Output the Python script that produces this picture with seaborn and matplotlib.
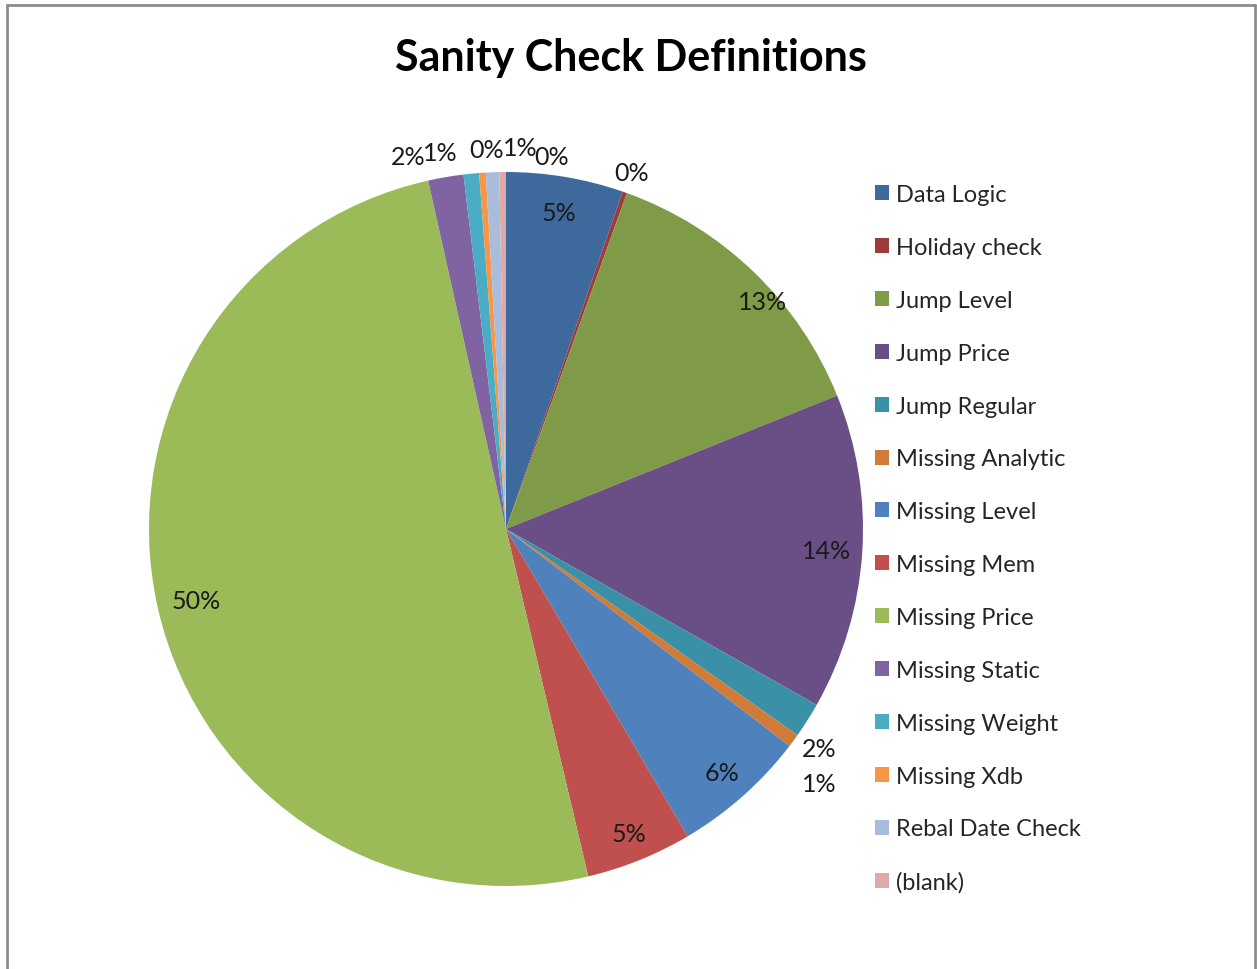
import numpy as np
import matplotlib
matplotlib.use("Agg")
import matplotlib.pyplot as plt
from matplotlib.lines import Line2D
import seaborn as sns

# ------------------------------------------------------------
# DATA (share of checks, %)
# ------------------------------------------------------------
categories = [
    "Data Logic", "Holiday check", "Jump Level", "Jump Price", "Jump Regular",
    "Missing Analytic", "Missing Level", "Missing Mem", "Missing Price",
    "Missing Static", "Missing Weight", "Missing Xdb", "Rebal Date Check",
    "(blank)",
]
values = [5.3, 0.2, 13.4, 14.3, 1.6, 0.6, 6.1, 4.8, 50.2, 1.6, 0.7, 0.3, 0.6, 0.3]
title = "Sanity Check Definitions"

colors = [
    "#3D699C", "#9C3B39", "#7F9B48", "#694F86", "#3A91A7", "#D07C38",
    "#4F81BD", "#C0504D", "#9BBB59", "#8064A2", "#4BACC6", "#F79646",
    "#A9BCDB", "#DCAAA9",
]

# label placement (radius in pie radii, angle nudge in degrees)
label_r = [0.90, 1.06, 0.96, 0.90, 1.07, 1.13, 0.91, 0.92, 0.89,
           1.08, 1.07, 1.065, 1.07, 1.05]
label_nudge = [0, 0, 4.5, 0, 2.6, 2.7, 0, 0, 0, -5, -4.3, 0.9, 4.3, 7.5]

# ------------------------------------------------------------
# STYLE
# ------------------------------------------------------------
sns.set_theme(style="white")
plt.rcParams["font.family"] = ["Lato", "DejaVu Sans"]

W, H = 1257, 970
fig = plt.figure(figsize=(W / 100, H / 100), dpi=100)

cx, cy, R = 506, 530, 357
ax = fig.add_axes([(cx - R) / W, (H - cy - R) / H, 2 * R / W, 2 * R / H])

wedges, _ = ax.pie(
    values,
    colors=colors,
    startangle=90,
    counterclock=False,
    radius=1,
    wedgeprops=dict(linewidth=0),
)
ax.set_xlim(-1, 1)
ax.set_ylim(-1, 1)
ax.set_aspect("equal")
ax.axis("off")

# percentage labels
vals = np.array(values)
total = vals.sum()
start = np.concatenate([[0], np.cumsum(vals)[:-1]])
mid = (start + vals / 2) / total * 360

for i, v in enumerate(vals):
    ang = np.deg2rad(mid[i] + label_nudge[i])
    x = label_r[i] * np.sin(ang)
    y = label_r[i] * np.cos(ang)
    ax.text(x, y, f"{round(v / total * 100):.0f}%", ha="center", va="center",
            fontsize=18, color="#1a1a1a", clip_on=False)

# title
fig.text(631 / W, 1 - 58 / H, title, ha="center", va="center",
         fontsize=31, fontweight="bold", color="black")

# legend
fig.legend(
    wedges, categories,
    loc="upper left",
    bbox_to_anchor=(875 / W, 1 - 185 / H),
    frameon=False,
    fontsize=17,
    handlelength=0.6,
    handleheight=0.6,
    handletextpad=0.3,
    labelspacing=1.35,
    borderaxespad=0,
    borderpad=0,
)

# chart frame
frame = dict(color="#8c8c8c", linewidth=2, transform=fig.transFigure)
fig.add_artist(Line2D([7 / W, 7 / W], [0, 1 - 6 / H], **frame))
fig.add_artist(Line2D([7 / W, 1255 / W], [1 - 6 / H, 1 - 6 / H], **frame))
fig.add_artist(Line2D([1255 / W, 1255 / W], [0, 1 - 6 / H], **frame))

fig.savefig("out.png", dpi=100)
